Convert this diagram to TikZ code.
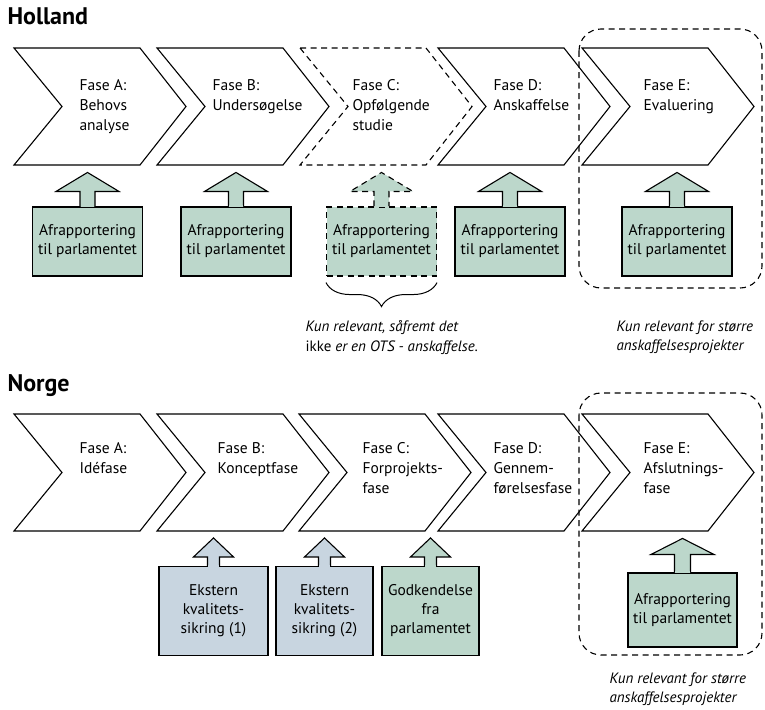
\documentclass[tikz,border=0pt]{standalone}
\usepackage{fontspec}
\setmainfont{PT Sans}
\usetikzlibrary{decorations.pathreplacing}
\definecolor{rapportgreen}{RGB}{188,215,203}
\definecolor{sikringblue}{RGB}{200,213,224}
% chevron: [style]{left x}{top y}
\newcommand{\chevron}[3][]{\draw[#1] (#2,#3) -- ++(126,0) -- ++(46,58.5) -- ++(-46,58.5) -- ++(-126,0) -- ++(48,-58.5) -- cycle;}
% arrow on top of a box: [style]{box}{head half}{stem half}{head length}{stem length}
\newcommand{\uparrowto}[6][]{%
  \filldraw[#1] ([xshift=-#4pt]#2.north) -- ++(0,-#6) -- ++({#4-#3},0) -- ++(#3,-#5) -- ++(#3,#5) -- ++({#4-#3},0) -- ++(0,#6);
  \fill[#1,draw=none] ([xshift=-#4pt+0.7pt,yshift=1pt]#2.north) rectangle ([xshift=#4pt-0.7pt,yshift=-1pt]#2.north);}

\begin{document}
\begin{tikzpicture}[x=1pt, y=-1pt, line width=1.1pt, line join=miter,
  every node/.style={font=\fontsize{15.5}{20}\selectfont},
  heading/.style={anchor=base west, inner sep=0pt, font=\fontsize{24}{28}\selectfont\bfseries},
  fase/.style={anchor=north west, align=left, inner sep=0pt},
  rapport/.style={draw, fill=rapportgreen, align=center, inner sep=0pt, minimum width=110, minimum height=69,
    font=\fontsize{15.5}{19}\selectfont},
  sikring/.style={rapport, fill=sikringblue, minimum width=97, minimum height=89},
  note/.style={anchor=north west, align=left, inner sep=0pt, font=\fontsize{15}{19.5}\selectfont},
  dashline/.style={dash pattern=on 6pt off 4.5pt}]
\useasboundingbox (0,0) rectangle (765,709);

% Holland
\node[heading] (holland) at (7,25) {Holland};
\chevron{14}{48}
\chevron{157}{48}
\chevron[dashline]{300}{48}
\chevron{438}{48}
\chevron{582}{48}
\node[fase] (hA) at (79,79) {Fase A:\\Behovs\\analyse};
\node[fase] (hB) at (212,79) {Fase B:\\Undersøgelse};
\node[fase] (hC) at (352,79) {Fase C:\\Opfølgende\\studie};
\node[fase] (hD) at (493,79) {Fase D:\\Anskaffelse};
\node[fase] (hE) at (643,79) {Fase E:\\Evaluering};
\draw[dashline, rounded corners=22pt] (579,29) rectangle (762,288);

\node[rapport] (hRapA) at (87.5,241.5) {Afrapportering\\til parlamentet};
\node[rapport] (hRapB) at (236,241.5) {Afrapportering\\til parlamentet};
\node[rapport, dashline] (hRapC) at (381.5,241.5) {Afrapportering\\til parlamentet};
\node[rapport] (hRapD) at (510,241.5) {Afrapportering\\til parlamentet};
\node[rapport] (hRapE) at (677,241.5) {Afrapportering\\til parlamentet};
\uparrowto[fill=rapportgreen]{hRapA}{31.5}{7.5}{19}{15}
\uparrowto[fill=rapportgreen]{hRapB}{31.5}{7.5}{19}{15}
\uparrowto[fill=rapportgreen, dashline]{hRapC}{31.5}{7.5}{19}{15}
\uparrowto[fill=rapportgreen]{hRapD}{31.5}{7.5}{19}{15}
\uparrowto[fill=rapportgreen]{hRapE}{31.5}{7.5}{19}{15}

\draw[line width=1pt, decorate, decoration={brace, mirror, amplitude=24pt}]
  ([yshift=-6pt]hRapC.south west) -- ([yshift=-6pt]hRapC.south east);
\node[note] (hNoteC) at (305,320) {\textit{Kun relevant, såfremt det}\\ikke \textit{er en OTS - anskaffelse.}};
\node[note] (hNoteE) at (616,320) {\textit{Kun relevant for større}\\\textit{anskaffelsesprojekter}};

% Norge
\node[heading] (norge) at (7,391) {Norge};
\chevron{14}{414}
\chevron{157}{414}
\chevron{299}{414}
\chevron{438}{414}
\chevron{582}{414}
\node[fase] (nA) at (79,442) {Fase A:\\Idéfase};
\node[fase] (nB) at (217,442) {Fase B:\\Konceptfase};
\node[fase] (nC) at (362,442) {Fase C:\\Forprojekts-\\fase};
\node[fase] (nD) at (493,442) {Fase D:\\Gennem-\\førelsesfase};
\node[fase] (nE) at (643,442) {Fase E:\\Afslutnings-\\fase};
\draw[dashline, rounded corners=22pt] (579,393) rectangle (762,655);

\node[sikring, minimum width=109] (nSikB) at (213.5,611) {Ekstern\\kvalitets-\\sikring (1)};
\node[sikring] (nSikC) at (324.5,611) {Ekstern\\kvalitets-\\sikring (2)};
\node[rapport, minimum width=97, minimum height=89] (nGodD) at (430.5,611) {Godkendelse\\fra\\parlamentet};
\node[rapport, minimum width=109, minimum height=74] (nRapE) at (682.5,610) {Afrapportering\\til parlamentet};
\uparrowto[fill=sikringblue]{nSikB}{20}{6}{19}{9}
\uparrowto[fill=sikringblue]{nSikC}{20}{6}{19}{9}
\uparrowto[fill=rapportgreen]{nGodD}{20}{6}{19}{9}
\uparrowto[fill=rapportgreen]{nRapE}{31.5}{8}{16}{18}

\node[note] (nNoteE) at (609,672) {\textit{Kun relevant for større}\\\textit{anskaffelsesprojekter}};
\end{tikzpicture}
\end{document}
